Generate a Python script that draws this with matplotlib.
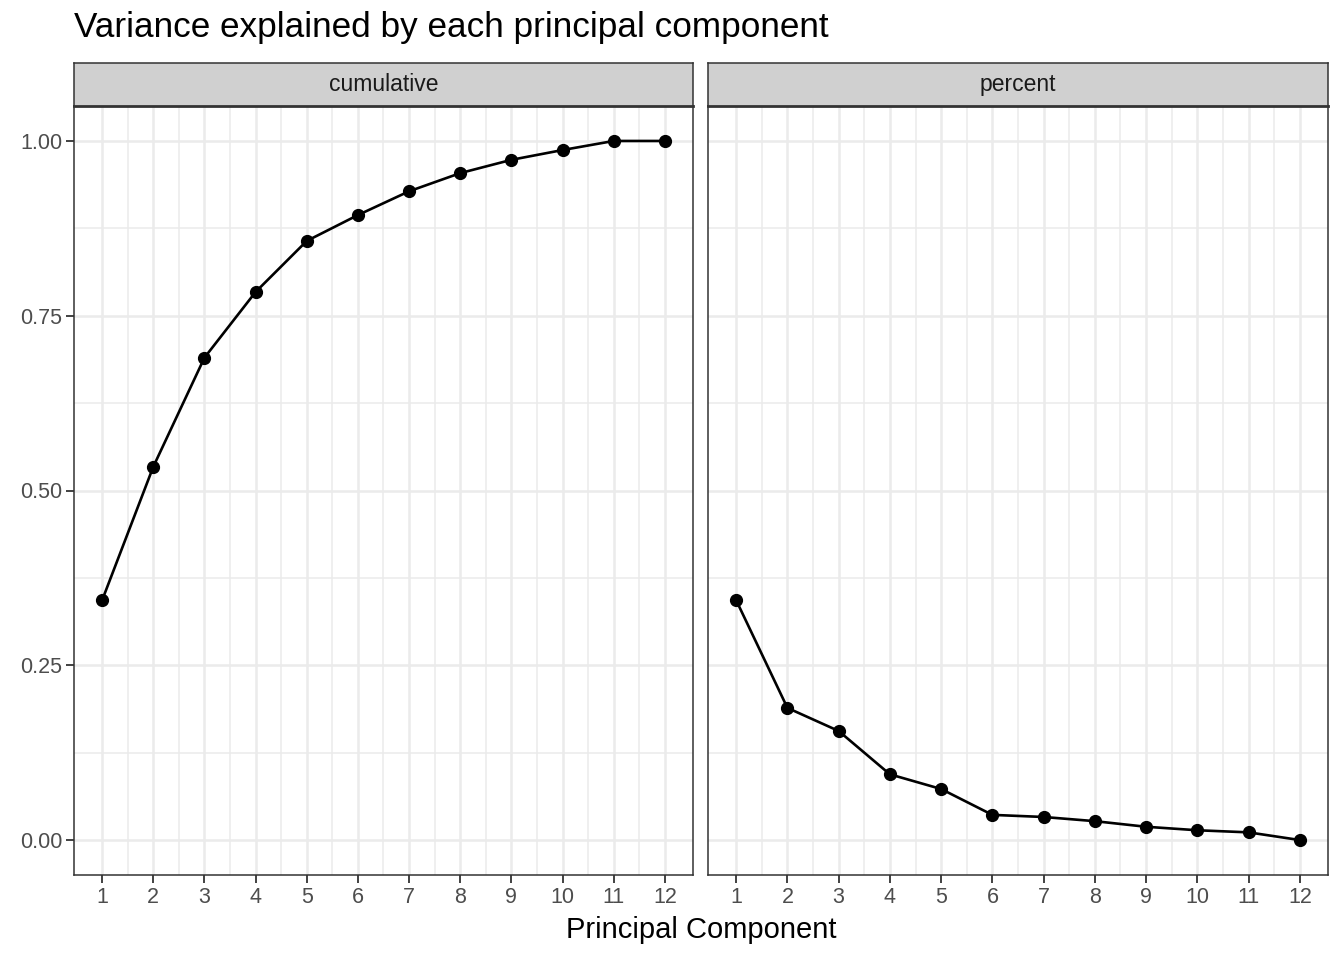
import matplotlib
matplotlib.use("Agg")
import matplotlib.pyplot as plt
import numpy as np

components = list(range(1, 13))
cumulative = [0.343, 0.534, 0.690, 0.784, 0.857, 0.894, 0.928, 0.954, 0.973, 0.987, 1.000, 1.000]
percent = [0.343, 0.189, 0.156, 0.094, 0.073, 0.036, 0.033, 0.027, 0.019, 0.014, 0.011, 0.000]
facets = ["cumulative", "percent"]
yticks = [0.00, 0.25, 0.50, 0.75, 1.00]
ytick_labels = ["0.00", "0.25", "0.50", "0.75", "1.00"]

plt.rcParams['font.family'] = ['Liberation Sans', 'DejaVu Sans']

fig = plt.figure(figsize=(13.44, 9.6), dpi=100)
W, H = 1344, 960

def fr(x0, y0, x1, y1):
    return [x0 / W, 1 - y1 / H, (x1 - x0) / W, (y1 - y0) / H]

panels = [(74, 693), (708, 1328)]
series = [cumulative, percent]

for i, ((x0, x1), name, vals) in enumerate(zip(panels, facets, series)):
    ax = fig.add_axes(fr(x0, 106, x1, 875))
    ax.set_xlim(0.45, 12.55)
    ax.set_ylim(-0.05, 1.05)
    ax.set_xticks(components)
    ax.set_xticks(np.arange(1.5, 12, 1.0), minor=True)
    ax.set_yticks(yticks)
    ax.set_yticks([0.125, 0.375, 0.625, 0.875], minor=True)
    ax.grid(which='major', color='#EBEBEB', linewidth=1.8)
    ax.grid(which='minor', color='#EBEBEB', linewidth=1.1)
    ax.set_axisbelow(True)
    ax.plot(components, vals, color='black', linewidth=1.9, marker='o',
            markersize=8.5, zorder=3)
    for s in ax.spines.values():
        s.set_color('#333333')
        s.set_linewidth(1.1)
    ax.tick_params(which='minor', length=0)
    ax.tick_params(which='major', length=5.5, width=1.3, color='#333333',
                   labelsize=15.5, labelcolor='#4D4D4D', pad=3)
    ax.set_xticklabels([str(c) for c in components])
    if i == 0:
        ax.set_yticklabels(ytick_labels)
    else:
        ax.tick_params(axis='y', which='both', left=False, labelleft=False)
    # strip
    sax = fig.add_axes(fr(x0, 63, x1, 106))
    sax.set_facecolor('#D0D0D0')
    sax.set_xticks([]); sax.set_yticks([])
    for s in sax.spines.values():
        s.set_color('#333333')
        s.set_linewidth(1.1)
    sax.spines['bottom'].set_linewidth(2.0)
    sax.text(0.5, 0.5, name, ha='center', va='center', fontsize=16.5,
             color='#1A1A1A', transform=sax.transAxes)

fig.text(74 / W, 1 - 28 / H, "Variance explained by each principal component",
         ha='left', va='center', fontsize=25.3, color='black')
fig.text(701 / W, 1 - 930 / H, "Principal Component", ha='center', va='center',
         fontsize=21, color='black')

fig.savefig("out.png", dpi=100)
